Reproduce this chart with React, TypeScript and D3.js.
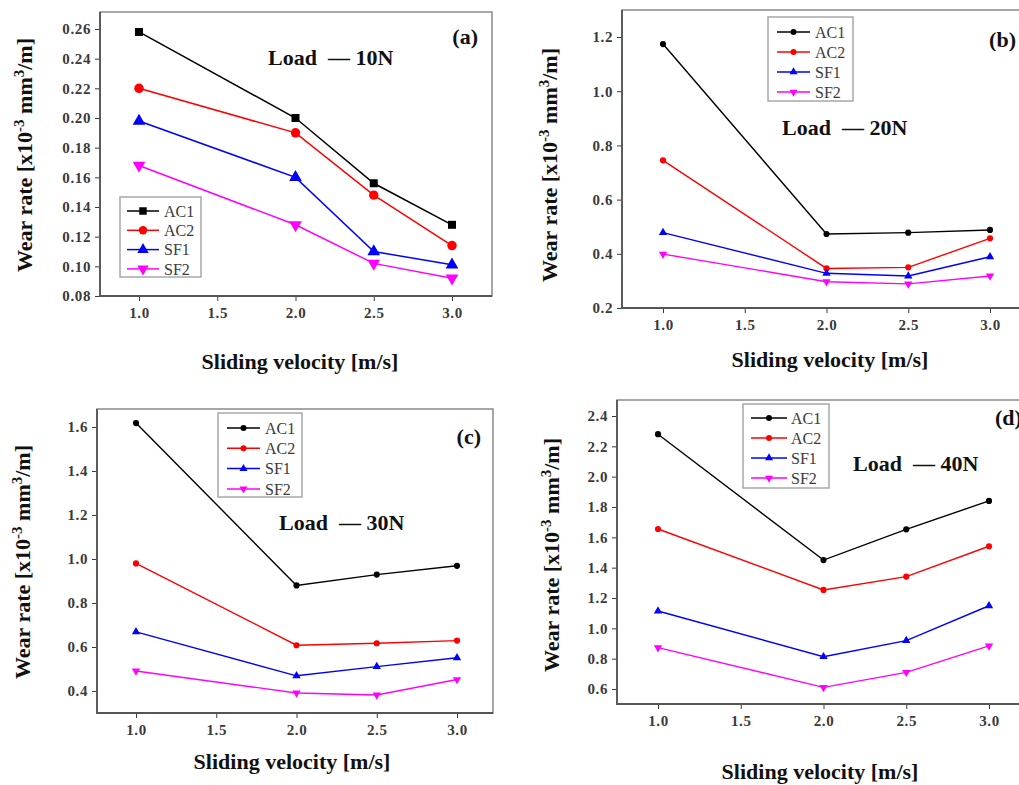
import React, { useEffect, useRef } from "react";
import * as d3 from "d3";

const width = 1019;
const height = 785;
const serif = "'Liberation Serif', 'Times New Roman', serif";

// data
const velocity = [1.0, 2.0, 2.5, 3.0];
const xTicks = [1.0, 1.5, 2.0, 2.5, 3.0];
const seriesNames = ["AC1", "AC2", "SF1", "SF2"];
const seriesColors = ["#000000", "#ff0000", "#0000ff", "#ff00ff"];

const wear10N = [
  [0.258, 0.2, 0.156, 0.128],
  [0.22, 0.19, 0.148, 0.114],
  [0.198, 0.16, 0.11, 0.101],
  [0.168, 0.128, 0.102, 0.092],
];
const wear20N = [
  [1.174, 0.473, 0.478, 0.488],
  [0.745, 0.346, 0.35, 0.457],
  [0.478, 0.328, 0.318, 0.389],
  [0.399, 0.297, 0.289, 0.318],
];
const wear30N = [
  [1.618, 0.88, 0.929, 0.969],
  [0.98, 0.608, 0.617, 0.629],
  [0.669, 0.469, 0.511, 0.551],
  [0.491, 0.391, 0.382, 0.452],
];
const wear40N = [
  [2.28, 1.45, 1.653, 1.84],
  [1.655, 1.253, 1.341, 1.541],
  [1.114, 0.813, 0.919, 1.149],
  [0.873, 0.611, 0.71, 0.884],
];

const yTicks10N = [0.08, 0.1, 0.12, 0.14, 0.16, 0.18, 0.2, 0.22, 0.24, 0.26];
const yTicks20N = [0.2, 0.4, 0.6, 0.8, 1.0, 1.2];
const yTicks30N = [0.4, 0.6, 0.8, 1.0, 1.2, 1.4, 1.6];
const yTicks40N = [0.6, 0.8, 1.0, 1.2, 1.4, 1.6, 1.8, 2.0, 2.2, 2.4];

const panels = [
  {
    tag: "(a)", load: "10N", data: wear10N, yTicks: yTicks10N, fmt: ".2f", big: true,
    box: [100, 12, 492, 296], xpx: [139, 452], ypx: [296, 29],
    xLabel: [300, 369], yLabel: [32, 155], loadPos: [268, 65], tagPos: [478, 44],
    legend: { x: 120, y: 197, w: 81, h: 80, row0: 211, step: 19.3, l0: 127, l1: 159, tx: 164 },
  },
  {
    tag: "(b)", load: "20N", data: wear20N, yTicks: yTicks20N, fmt: ".1f", big: false,
    box: [622, 10, 1031, 308], xpx: [663, 990], ypx: [308, 37],
    xLabel: [830, 367], yLabel: [557, 165], loadPos: [782, 135], tagPos: [1016, 47],
    legend: { x: 768, y: 17, w: 85, h: 84, row0: 32, step: 20, l0: 777, l1: 810, tx: 815 },
  },
  {
    tag: "(c)", load: "30N", data: wear30N, yTicks: yTicks30N, fmt: ".1f", big: false,
    box: [97, 409, 493, 713], xpx: [136, 457], ypx: [691, 427],
    xLabel: [292, 769], yLabel: [30, 562], loadPos: [279, 530], tagPos: [481, 444],
    legend: { x: 218, y: 413, w: 84, h: 84, row0: 428, step: 20.3, l0: 227, l1: 260, tx: 265 },
  },
  {
    tag: "(d)", load: "40N", data: wear40N, yTicks: yTicks40N, fmt: ".1f", big: false,
    box: [617, 400, 1031, 704], xpx: [658, 989], ypx: [689, 416],
    xLabel: [820, 779], yLabel: [559, 555], loadPos: [853, 471], tagPos: [995, 425],
    legend: { x: 743, y: 404, w: 86, h: 84, row0: 418, step: 20, l0: 751, l1: 787, tx: 791 },
  },
];

const App = () => {
  const ref = useRef<SVGSVGElement>(null);

  useEffect(() => {
    const svg = d3.select(ref.current);
    svg.selectAll("*").remove();

    panels.forEach((p) => {
      const [left, top, right, bottom] = p.box;
      const x = d3.scaleLinear().domain([1.0, 3.0]).range(p.xpx);
      const y = d3
        .scaleLinear()
        .domain([p.yTicks[0], p.yTicks[p.yTicks.length - 1]])
        .range(p.ypx);
      const g = svg.append("g");

      g.append("rect")
        .attr("x", left)
        .attr("y", top)
        .attr("width", right - left)
        .attr("height", bottom - top)
        .attr("fill", "#fff")
        .attr("stroke", "#8a8a8a")
        .attr("stroke-width", 1.5);

      const yAxis = d3.axisLeft(y).tickValues(p.yTicks).tickSize(5).tickPadding(4).tickFormat(d3.format(p.fmt));
      g.append("g")
        .attr("transform", `translate(${left},0)`)
        .call(yAxis)
        .call((a) => a.select(".domain").remove())
        .attr("font-family", serif)
        .attr("font-size", 15)
        .attr("font-weight", "bold")
        .attr("letter-spacing", 0.6)
        .attr("color", "#3a3a3a");

      const xAxis = d3.axisBottom(x).tickValues(xTicks).tickSize(5).tickPadding(6).tickFormat(d3.format(".1f"));
      g.append("g")
        .attr("transform", `translate(0,${bottom})`)
        .call(xAxis)
        .call((a) => a.select(".domain").remove())
        .attr("font-family", serif)
        .attr("font-size", 15)
        .attr("font-weight", "bold")
        .attr("letter-spacing", 0.6)
        .attr("color", "#3a3a3a");

      g.append("path")
        .attr("d", `M${left},${top}V${bottom}H${right}`)
        .attr("fill", "none")
        .attr("stroke", "#555")
        .attr("stroke-width", 1.8);

      const symbols = p.big
        ? [d3.symbolSquare, d3.symbolCircle, d3.symbolTriangle, d3.symbolTriangle]
        : [d3.symbolCircle, d3.symbolCircle, d3.symbolTriangle, d3.symbolTriangle];
      const size = p.big ? 70 : 30;

      const line = d3
        .line<number>()
        .x((d, i) => x(velocity[i]))
        .y((d) => y(d));

      p.data.forEach((vals, si) => {
        g.append("path")
          .attr("d", line(vals))
          .attr("fill", "none")
          .attr("stroke", seriesColors[si])
          .attr("stroke-width", p.big ? 1.5 : 1.4);
        g.append("g")
          .selectAll("path")
          .data(vals)
          .join("path")
          .attr("d", d3.symbol(symbols[si], si === 0 && p.big ? 64 : size)())
          .attr("transform", (d, i) => `translate(${x(velocity[i])},${y(d)})${si === 3 ? " rotate(180)" : ""}`)
          .attr("fill", seriesColors[si]);
      });

      // legend
      const L = p.legend;
      g.append("rect")
        .attr("x", L.x)
        .attr("y", L.y)
        .attr("width", L.w)
        .attr("height", L.h)
        .attr("fill", "#fff")
        .attr("stroke", "#a8a8a8")
        .attr("stroke-width", 1.5);
      seriesNames.forEach((name, si) => {
        const ry = L.row0 + si * L.step;
        g.append("line")
          .attr("x1", L.l0)
          .attr("x2", L.l1)
          .attr("y1", ry)
          .attr("y2", ry)
          .attr("stroke", seriesColors[si])
          .attr("stroke-width", 1.5);
        g.append("path")
          .attr("d", d3.symbol(symbols[si], p.big ? 56 : 28)())
          .attr("transform", `translate(${(L.l0 + L.l1) / 2},${ry})${si === 3 ? " rotate(180)" : ""}`)
          .attr("fill", seriesColors[si]);
        g.append("text")
          .attr("x", L.tx)
          .attr("y", ry)
          .attr("dy", "0.35em")
          .attr("font-family", serif)
          .attr("font-size", 16)
          .attr("fill", "#3a3a3a")
          .text(name);
      });

      // load label and tag
      g.append("text")
        .attr("x", p.loadPos[0])
        .attr("y", p.loadPos[1])
        .attr("font-family", serif)
        .attr("font-size", 22)
        .attr("font-weight", "bold")
        .attr("fill", "#111")
        .text(`Load\u00A0\u00A0\u2014 ${p.load}`);
      g.append("text")
        .attr("x", p.tagPos[0])
        .attr("y", p.tagPos[1])
        .attr("text-anchor", p.tag === "(d)" ? "start" : "end")
        .attr("font-family", serif)
        .attr("font-size", 22)
        .attr("font-weight", "bold")
        .attr("fill", "#111")
        .text(p.tag);

      // axis titles
      g.append("text")
        .attr("x", p.xLabel[0])
        .attr("y", p.xLabel[1])
        .attr("text-anchor", "middle")
        .attr("font-family", serif)
        .attr("font-size", 22)
        .attr("font-weight", "bold")
        .attr("fill", "#111")
        .text("Sliding velocity [m/s]");

      const yt = g
        .append("text")
        .attr("transform", `translate(${p.yLabel[0]},${p.yLabel[1]}) rotate(-90)`)
        .attr("text-anchor", "middle")
        .attr("font-family", serif)
        .attr("font-size", 22)
        .attr("font-weight", "bold")
        .attr("fill", "#111");
      yt.append("tspan").text("Wear rate [x10");
      yt.append("tspan").attr("dy", -8).attr("font-size", 15).text("-3");
      yt.append("tspan").attr("dy", 8).text("\u00A0mm");
      yt.append("tspan").attr("dy", -8).attr("font-size", 15).text("3");
      yt.append("tspan").attr("dy", 8).text("/m]");
    });
  }, []);

  return (
    <svg
      ref={ref}
      width={width}
      height={height}
      viewBox={`0 0 ${width} ${height}`}
      style={{ position: "absolute", left: 0, top: 0, background: "#fff" }}
    />
  );
};

export default App;
